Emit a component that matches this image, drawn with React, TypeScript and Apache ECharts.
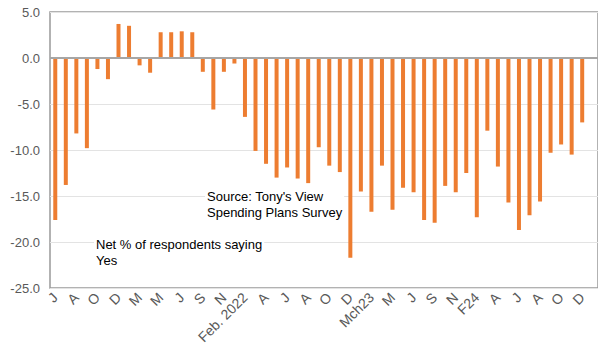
import React, { useEffect, useRef } from "react";
import * as echarts from "echarts";

// Month labels: shown on every second bar; the trailing slot is left empty.
const categories: string[] = [
  "J", "", "A", "", "O", "", "D", "", "M", "", "M", "", "J", "", "S", "", "N", "",
  "Feb. 2022", "", "A", "", "J", "", "A", "", "O", "", "D", "", "Mch23", "", "M", "",
  "J", "", "S", "", "N", "", "F24", "", "A", "", "J", "", "A", "", "O", "", "D", "",
];

// Net % of respondents saying Yes
const netYes: (number | null)[] = [
  -17.6, -13.8, -8.2, -9.8, -1.2, -2.3, 3.7, 3.5, -0.8, -1.6,
  2.8, 2.8, 2.9, 2.8, -1.5, -5.6, -1.5, -0.6, -6.4, -10.1,
  -11.5, -13.0, -11.9, -13.1, -13.6, -9.7, -11.7, -12.4, -21.7, -14.5,
  -16.7, -11.7, -16.5, -14.1, -14.6, -17.6, -17.9, -13.9, -14.6, -12.5,
  -17.3, -7.9, -11.8, -15.7, -18.7, -17.1, -15.6, -10.3, -9.4, -10.5,
  -7.0, null,
];

const yTicks = { min: -25, max: 5, step: 5 };

const FONT = '"Liberation Sans", Arial, sans-serif';

export default function App() {
  const ref = useRef<HTMLDivElement>(null);

  useEffect(() => {
    if (!ref.current) return;
    const chart = echarts.init(ref.current, undefined, { renderer: "svg" });
    chart.setOption({
      animation: false,
      backgroundColor: "#ffffff",
      grid: {
        left: 50,
        top: 12,
        width: 550,
        height: 276,
        show: true,
        borderColor: "#999999",
        borderWidth: 1.5,
        backgroundColor: "transparent",
      },
      xAxis: {
        type: "category",
        data: categories,
        boundaryGap: true,
        axisLine: { show: false },
        axisTick: { show: false },
        splitLine: { show: false },
        axisLabel: {
          interval: 0,
          rotate: 45,
          margin: 7,
          fontSize: 14,
          fontFamily: FONT,
          color: "#595959",
        },
      },
      yAxis: {
        type: "value",
        min: yTicks.min,
        max: yTicks.max,
        interval: yTicks.step,
        axisLine: { show: false },
        axisTick: { show: false },
        splitLine: { show: true, lineStyle: { color: "#e3e3e3", width: 1 } },
        axisLabel: {
          margin: 10,
          fontSize: 13,
          fontFamily: FONT,
          color: "#595959",
          formatter: (v: number) => v.toFixed(1),
        },
      },
      series: [
        {
          type: "bar",
          data: netYes,
          barWidth: 4,
          itemStyle: { color: "#ED7D31" },
          markLine: {
            silent: true,
            symbol: "none",
            label: { show: false },
            lineStyle: { color: "#a6a6a6", width: 2, type: "solid" },
            data: [{ yAxis: 0 }],
          },
        },
      ],
      graphic: [
        {
          type: "text",
          left: 205,
          top: 188,
          z: 10,
          style: {
            text: "Source: Tony's View\nSpending Plans Survey",
            fontSize: 13,
            fontFamily: FONT,
            fill: "#000000",
            lineHeight: 15.5,
            backgroundColor: "#ffffff",
            padding: [1, 2, 1, 2],
          },
        },
        {
          type: "text",
          left: 94,
          top: 236,
          z: 10,
          style: {
            text: "Net % of respondents saying\nYes",
            fontSize: 13,
            fontFamily: FONT,
            fill: "#000000",
            lineHeight: 15.5,
            backgroundColor: "#ffffff",
            padding: [1, 2, 1, 2],
          },
        },
      ],
    });
    return () => chart.dispose();
  }, []);

  return (
    <div
      ref={ref}
      style={{ position: "fixed", left: 0, top: 0, width: 598, height: 350 }}
    />
  );
}
